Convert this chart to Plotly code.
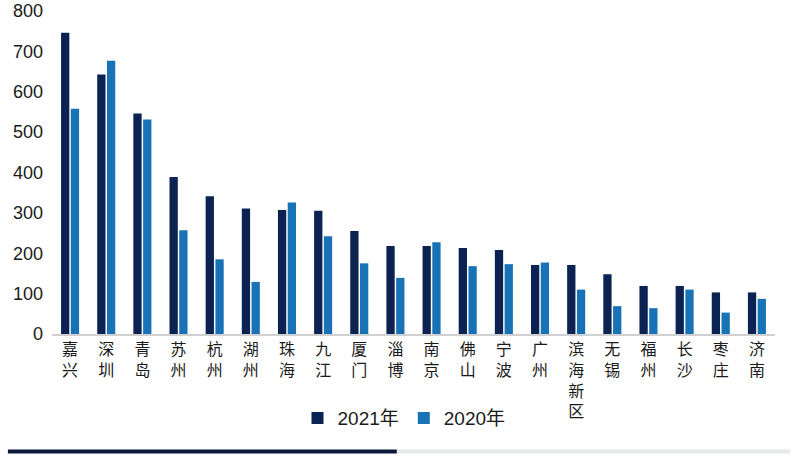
import plotly.graph_objects as go

cities = ["嘉兴", "深圳", "青岛", "苏州", "杭州", "湖州", "珠海", "九江", "厦门", "淄博",
          "南京", "佛山", "宁波", "广州", "滨海新区", "无锡", "福州", "长沙", "枣庄", "济南"]
v2021 = [746, 643, 546, 389, 341, 311, 307, 305, 255, 218,
         218, 213, 208, 171, 171, 148, 119, 119, 103, 103]
v2020 = [558, 677, 531, 257, 185, 129, 326, 242, 175, 139,
         227, 168, 173, 177, 110, 69, 64, 110, 53, 87]
y_ticks = [0, 100, 200, 300, 400, 500, 600, 700, 800]

vert_labels = ["<br>".join(list(c)) for c in cities]

font_family = "Liberation Sans, Noto Sans CJK SC, sans-serif"
c2021 = "#0b2252"
c2020 = "#1872b6"

fig = go.Figure()
fig.add_trace(go.Bar(name="2021年", x=cities, y=v2021, marker_color=c2021, marker_line_width=0))
fig.add_trace(go.Bar(name="2020年", x=cities, y=v2020, marker_color=c2020, marker_line_width=0))

fig.update_layout(
    width=800, height=460,
    margin=dict(l=52, r=25, t=11, b=126, autoexpand=False),
    paper_bgcolor="white", plot_bgcolor="white",
    barmode="group", bargap=0.46, bargroupgap=0.15,
    font=dict(family=font_family, size=18, color="#1a1a1a"),
    showlegend=True,
    legend=dict(orientation="h", x=0.505, xanchor="center", xref="container",
                y=0.091, yanchor="middle", yref="container",
                font=dict(size=19, color="#1a1a1a"), itemwidth=30, traceorder="normal"),
)
fig.update_xaxes(
    tickmode="array", tickvals=cities, ticktext=vert_labels,
    showline=True, linecolor="#d0d0d0", linewidth=1.5,
    ticks="", showgrid=False, tickangle=0, automargin=False,
    tickfont=dict(size=16, color="#1a1a1a", family="Noto Sans CJK SC, sans-serif"),
)
fig.update_yaxes(
    range=[0, 800], tickvals=y_ticks, showgrid=False, zeroline=False,
    showline=False, ticks="", ticklabelstandoff=8, automargin=False,
    tickfont=dict(size=18, color="#1a1a1a"),
)

# bottom scroll indicator
fig.add_shape(type="line", xref="paper", yref="paper", x0=-0.061, x1=0.477, y0=-0.364, y1=-0.364,
              line=dict(color="#0b1a3a", width=4))
fig.add_shape(type="line", xref="paper", yref="paper", x0=0.477, x1=1.021, y0=-0.364, y1=-0.364,
              line=dict(color="#e6e8ea", width=4))

fig.write_html("out.html", config={"displayModeBar": False},
               post_script="document.body.style.margin='0';")
